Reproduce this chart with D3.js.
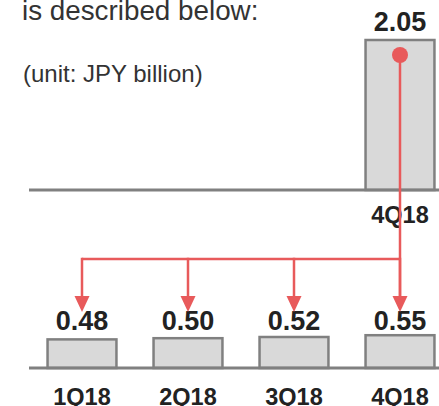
<!DOCTYPE html>
<html>
<head>
<meta charset="utf-8">
<script src="https://cdn.jsdelivr.net/npm/d3@7"></script>
<style>
  body { margin: 0; background: #fff; }
  svg { display: block; }
</style>
</head>
<body>
<svg width="439" height="406"></svg>
<script>
const width = 439;
const height = 406;

// data
const quarters = ["1Q18", "2Q18", "3Q18", "4Q18"];
const quarterValues = [0.48, 0.50, 0.52, 0.55];
const annualQuarter = ["4Q18"];
const annualValues = [2.05];

const red = "#e85a5b";
const grey = "#808080";
const barFill = "#d9d9d9";
const font = "'Liberation Sans', Arial, sans-serif";

var svg = d3.select("svg");

var x = d3.scaleBand()
    .domain(quarters)
    .range([29, 453])
    .paddingInner(0.35)
    .paddingOuter(0.175);

var topBase = 190;
var botBase = 368;

var yTop = d3.scaleLinear().domain([0, 2.05]).range([topBase, 40]);
var yBot = d3.scaleLinear().domain([0, 0.52]).range([botBase, 337]);

function cx(q) { return x(q) + x.bandwidth() / 2; }

// header text
svg.append("text")
    .attr("x", 22).attr("y", 20)
    .style("font-family", font).style("font-size", "27.8px").attr("fill", "#333")
    .text("is described below:");

svg.append("text")
    .attr("x", 23).attr("y", 82)
    .style("font-family", font).style("font-size", "24px").attr("fill", "#333")
    .text("(unit: JPY billion)");

// top panel: annual-ised bar
svg.selectAll(".topbar")
    .data(annualValues)
    .enter().append("rect")
    .attr("x", (d, i) => x(annualQuarter[i]))
    .attr("y", d => yTop(d))
    .attr("width", x.bandwidth())
    .attr("height", d => topBase - yTop(d))
    .attr("fill", barFill)
    .attr("stroke", grey)
    .attr("stroke-width", 2.5);

svg.append("line")
    .attr("x1", 29).attr("x2", width)
    .attr("y1", topBase).attr("y2", topBase)
    .attr("stroke", grey).attr("stroke-width", 3);

svg.selectAll(".toplabel")
    .data(annualValues)
    .enter().append("text")
    .attr("x", (d, i) => cx(annualQuarter[i]))
    .attr("y", d => yTop(d) - 9)
    .attr("text-anchor", "middle")
    .style("font-family", font).style("font-size", "27px").style("font-weight", "bold")
    .attr("fill", "#222")
    .text(d => d.toFixed(2));

svg.selectAll(".topcat")
    .data(annualQuarter)
    .enter().append("text")
    .attr("x", d => cx(d))
    .attr("y", 223)
    .attr("text-anchor", "middle")
    .style("font-family", font).style("font-size", "23.5px").style("font-weight", "bold")
    .attr("fill", "#222")
    .text(d => d);

// bottom panel: quarterly bars
svg.selectAll(".botbar")
    .data(quarterValues)
    .enter().append("rect")
    .attr("x", (d, i) => x(quarters[i]))
    .attr("y", d => yBot(d))
    .attr("width", x.bandwidth())
    .attr("height", d => botBase - yBot(d))
    .attr("fill", barFill)
    .attr("stroke", grey)
    .attr("stroke-width", 2.5);

svg.append("line")
    .attr("x1", 29).attr("x2", width)
    .attr("y1", botBase).attr("y2", botBase)
    .attr("stroke", grey).attr("stroke-width", 3);

svg.selectAll(".botlabel")
    .data(quarterValues)
    .enter().append("text")
    .attr("x", (d, i) => cx(quarters[i]))
    .attr("y", 330)
    .attr("text-anchor", "middle")
    .style("font-family", font).style("font-size", "27px").style("font-weight", "bold")
    .attr("fill", "#222")
    .text(d => d.toFixed(2));

svg.selectAll(".botcat")
    .data(quarters)
    .enter().append("text")
    .attr("x", d => cx(d))
    .attr("y", 405)
    .attr("text-anchor", "middle")
    .style("font-family", font).style("font-size", "23.5px").style("font-weight", "bold")
    .attr("fill", "#222")
    .text(d => d);

// red connector: from the annual bar down to each quarter
var splitY = 259;
var arrowBase = 296;
var arrowTip = 312;
var last = quarters[quarters.length - 1];

svg.append("line")
    .attr("x1", cx(last)).attr("x2", cx(last))
    .attr("y1", yTop(annualValues[0]) + 15).attr("y2", arrowBase)
    .attr("stroke", red).attr("stroke-width", 2.5);

svg.append("line")
    .attr("x1", cx(quarters[0])).attr("x2", cx(last))
    .attr("y1", splitY).attr("y2", splitY)
    .attr("stroke", red).attr("stroke-width", 2.5);

quarters.forEach(function (q) {
    svg.append("line")
        .attr("x1", cx(q)).attr("x2", cx(q))
        .attr("y1", splitY - 1.25).attr("y2", arrowBase + 1)
        .attr("stroke", red).attr("stroke-width", 2.5);
    svg.append("path")
        .attr("d", "M" + (cx(q) - 7.5) + "," + arrowBase + "L" + (cx(q) + 7.5) + "," + arrowBase + "L" + cx(q) + "," + arrowTip + "Z")
        .attr("fill", red);
});

svg.append("circle")
    .attr("cx", cx(last))
    .attr("cy", yTop(annualValues[0]) + 15)
    .attr("r", 8)
    .attr("fill", red);
</script>
</body>
</html>
